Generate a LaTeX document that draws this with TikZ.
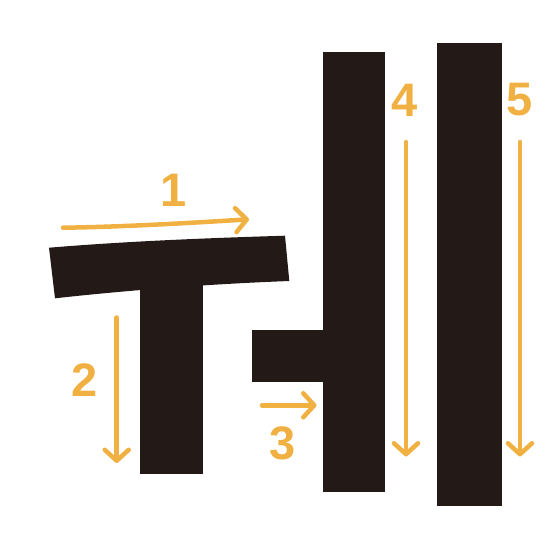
\documentclass[tikz,border=0pt]{standalone}
\usepackage{fontspec}
\setmainfont{Liberation Sans}
\usetikzlibrary{arrows.meta}
\definecolor{ink}{RGB}{35,25,23}
\definecolor{orng}{RGB}{240,176,66}
\tikzset{
  stroke/.style={fill=ink, draw=none},
  arr/.style={draw=orng, line width=4.5pt, line cap=round,
    -{Straight Barb[length=11pt, width=24pt, line cap=round, line join=round]}},
  num/.style={text=orng, font=\fontsize{47}{47}\selectfont\bfseries, inner sep=0pt}
}
\begin{document}
\begin{tikzpicture}[x=1pt, y=-1pt]
\useasboundingbox (0,0) rectangle (550,550);
% strokes
\path[stroke] (49,247.7) .. controls (130,241) and (210,238) .. (285,235.7)
  -- (289.3,281) .. controls (210,284) and (130,290) .. (55,298.3) -- cycle;
\path[stroke] (140,280) rectangle (203.3,474);
\path[stroke] (252.3,330) rectangle (330,382.3);
\path[stroke] (322.5,52.3) rectangle (385.3,492.3);
\path[stroke] (437.3,43.3) rectangle (501.5,506);
% arrow end points
\coordinate (a1s) at (63,227.7);
\coordinate (a1e) at (249,219.3);
\coordinate (a2s) at (116.7,317.5);
\coordinate (a2e) at (116.7,463);
\coordinate (a3s) at (262,405.3);
\coordinate (a3e) at (316.5,405.3);
\coordinate (a4s) at (406,142);
\coordinate (a4e) at (406,456.5);
\coordinate (a5s) at (520,142);
\coordinate (a5e) at (520,456.5);
\draw[arr] (a1s) .. controls (120,227) and (190,223) .. (a1e);
\draw[arr] (a2s) -- (a2e);
\draw[arr] (a3s) -- (a3e);
\draw[arr] (a4s) -- (a4e);
\draw[arr] (a5s) -- (a5e);
% numbers
\node[num] (n1) at (174,190) {1};
\node[num] (n2) at (85,380) {2};
\node[num] (n3) at (283,443) {3};
\node[num] (n4) at (405,100) {4};
\node[num] (n5) at (520,100) {5};
\end{tikzpicture}
\end{document}
